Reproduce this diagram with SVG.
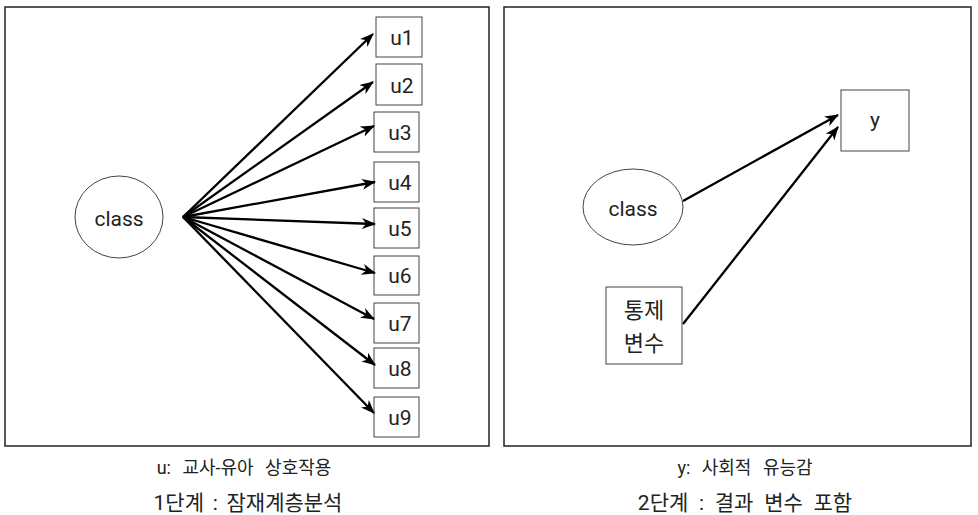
<svg xmlns="http://www.w3.org/2000/svg" width="978" height="515" viewBox="0 0 978 515">
<defs>
<style>
.frame{fill:#fff;stroke:#222;stroke-width:1.5}
.node{fill:#fff;stroke:#444;stroke-width:1}
.lbl{font-family:Roboto,"Noto Sans CJK KR",sans-serif;font-size:21px;fill:#222;text-anchor:middle}
.kor{font-family:Roboto,"Noto Sans CJK KR",sans-serif;font-size:22px;fill:#222;text-anchor:middle}
.cap{font-family:Roboto,"Noto Sans CJK KR",sans-serif;fill:#222;text-anchor:middle}
.edge{stroke:#000;stroke-width:2.3;fill:none;marker-end:url(#ah)}
</style>
<marker id="ah" viewBox="0 0 14 11" refX="13" refY="5.5" markerWidth="14" markerHeight="11" markerUnits="userSpaceOnUse" orient="auto">
<path d="M0,0 L14,5.5 L0,11 L4,5.5 Z" fill="#000"/>
</marker>
</defs>
<rect width="978" height="515" fill="#fff"/>
<rect class="frame" x="5" y="7" width="484" height="439"/>
<rect class="frame" x="504" y="7" width="467" height="439"/>

<g id="class1"><ellipse class="node" cx="119" cy="217" rx="44" ry="41"/><text class="lbl" x="119" y="226" font-size="24">class</text></g>
<g id="u1"><rect class="node" x="376" y="17" width="46" height="40"/><text class="lbl" x="402" y="45">u1</text></g>
<g id="u2"><rect class="node" x="376" y="64" width="46" height="41"/><text class="lbl" x="402" y="93">u2</text></g>
<g id="u3"><rect class="node" x="374" y="112" width="45" height="40"/><text class="lbl" x="400" y="140">u3</text></g>
<g id="u4"><rect class="node" x="374" y="162" width="45" height="40"/><text class="lbl" x="400" y="190">u4</text></g>
<g id="u5"><rect class="node" x="374" y="208" width="45" height="40"/><text class="lbl" x="400" y="236">u5</text></g>
<g id="u6"><rect class="node" x="374" y="256" width="45" height="39"/><text class="lbl" x="400" y="283">u6</text></g>
<g id="u7"><rect class="node" x="374" y="303" width="45" height="40"/><text class="lbl" x="400" y="331">u7</text></g>
<g id="u8"><rect class="node" x="374" y="348" width="45" height="40"/><text class="lbl" x="400" y="376">u8</text></g>
<g id="u9"><rect class="node" x="374" y="397" width="45" height="40"/><text class="lbl" x="400" y="425">u9</text></g>

<g id="class2"><ellipse class="node" cx="633" cy="207" rx="50" ry="38"/><text class="lbl" x="633" y="216" font-size="24">class</text></g>
<g id="y"><rect class="node" x="841" y="90" width="68" height="61"/><text class="lbl" x="875" y="127" font-size="22">y</text></g>
<g id="ctrl"><rect class="node" x="606" y="287" width="76" height="77"/><text class="kor" x="644" y="318">통제</text><text class="kor" x="644" y="351">변수</text></g>

<g id="connectors">
<line class="edge" x1="183" y1="217" x2="373" y2="34"/>
<line class="edge" x1="183" y1="217" x2="373" y2="82"/>
<line class="edge" x1="183" y1="217" x2="374" y2="126"/>
<line class="edge" x1="183" y1="217" x2="375" y2="182"/>
<line class="edge" x1="183" y1="217" x2="375" y2="224"/>
<line class="edge" x1="183" y1="217" x2="375" y2="273"/>
<line class="edge" x1="183" y1="217" x2="374" y2="319"/>
<line class="edge" x1="183" y1="217" x2="375" y2="365"/>
<line class="edge" x1="183" y1="217" x2="374" y2="413"/>
<line class="edge" x1="683" y1="201" x2="838" y2="115"/>
<line class="edge" x1="683" y1="324" x2="838" y2="127"/>
</g>

<text class="cap" x="244" y="474" font-size="18" word-spacing="7">u: 교사-유아 상호작용</text>
<text class="cap" x="248" y="510" font-size="21" word-spacing="3.5">1단계 : 잠재계층분석</text>
<text class="cap" x="745" y="474" font-size="18" word-spacing="7">y: 사회적 유능감</text>
<text class="cap" x="745" y="510" font-size="21" word-spacing="5.5">2단계 : 결과 변수 포함</text>
</svg>
